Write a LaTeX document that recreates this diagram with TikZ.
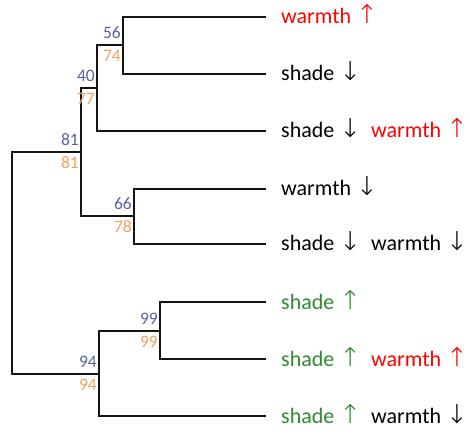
\documentclass[tikz,border=0pt]{standalone}
\usepackage{fontspec}
\setmainfont{Carlito}
\newfontfamily\arrfont{DejaVu Sans ExtraLight}
\definecolor{tred}{RGB}{255,0,0}
\definecolor{tgreen}{RGB}{46,139,46}
\definecolor{bsblue}{RGB}{90,96,160}
\definecolor{bsorange}{RGB}{240,160,96}
\newcommand{\myup}{{\arrfont\fontsize{26}{30}\selectfont\char"2191}}
\newcommand{\mydown}{{\arrfont\fontsize{26}{30}\selectfont\char"2193}}
\begin{document}
\begin{tikzpicture}[x=1pt,y=-1pt,
  branch/.style={line width=2.6pt, black!92, line cap=rect},
  leaflab/.style={anchor=base west, font=\fontsize{22}{26}\selectfont, inner sep=0pt},
  bsa/.style={anchor=east, text=bsblue, font=\fontsize{17.5}{20}\selectfont, inner sep=0pt},
  bsb/.style={anchor=east, text=bsorange, font=\fontsize{17.5}{20}\selectfont, inner sep=0pt}]
\useasboundingbox (0,0) rectangle (470,435);
% leaves
\coordinate (L1) at (265,17);
\coordinate (L2) at (265,74);
\coordinate (L3) at (265,131);
\coordinate (L4) at (265,189);
\coordinate (L5) at (265,244);
\coordinate (L6) at (265,302);
\coordinate (L7) at (265,359);
\coordinate (L8) at (265,416);
% junctions
\coordinate (A) at (123,45);
\coordinate (B) at (97,88);
\coordinate (C) at (134,216);
\coordinate (D) at (81,152);
\coordinate (E) at (160,331);
\coordinate (F) at (99,374);
\coordinate (R) at (12,262);
% branches
\draw[branch] (L1) -| (A) |- (L2);
\draw[branch] (A) -| (B) |- (L3);
\draw[branch] (L4) -| (C) |- (L5);
\draw[branch] (B) -| (D) |- (C);
\draw[branch] (L6) -| (E) |- (L7);
\draw[branch] (E) -| (F) |- (L8);
\draw[branch] (D) -| (R) |- (F);
% support values
\node[bsa] (a1) at ([shift={(-2,-12)}]A) {56};
\node[bsb] (a2) at ([shift={(-2,11)}]A) {74};
\node[bsa] (b1) at ([shift={(-2,-12)}]B) {40};
\node[bsb] (b2) at ([shift={(-2,11)}]B) {77};
\node[bsa] (c1) at ([shift={(-2,-12)}]C) {66};
\node[bsb] (c2) at ([shift={(-2,11)}]C) {78};
\node[bsa] (d1) at ([shift={(-2,-12)}]D) {81};
\node[bsb] (d2) at ([shift={(-2,11)}]D) {81};
\node[bsa] (e1) at ([shift={(-2,-12)}]E) {99};
\node[bsb] (e2) at ([shift={(-2,11)}]E) {99};
\node[bsa] (f1) at ([shift={(-2,-12)}]F) {94};
\node[bsb] (f2) at ([shift={(-2,11)}]F) {94};
% leaf labels
\node[leaflab, text=tred] (t1) at (281,24) {warmth \myup};
\node[leaflab] (t2) at (281,81) {shade \mydown};
\node[leaflab] (t3) at (281,138) {shade \mydown};
\node[leaflab, text=tred] (t3b) at (371,138) {warmth \myup};
\node[leaflab] (t4) at (281,196) {warmth \mydown};
\node[leaflab] (t5) at (281,251) {shade \mydown};
\node[leaflab] (t5b) at (371,251) {warmth \mydown};
\node[leaflab, text=tgreen] (t6) at (281,309) {shade \myup};
\node[leaflab, text=tgreen] (t7) at (281,366) {shade \myup};
\node[leaflab, text=tred] (t7b) at (371,366) {warmth \myup};
\node[leaflab, text=tgreen] (t8) at (281,423) {shade \myup};
\node[leaflab] (t8b) at (371,423) {warmth \mydown};
\end{tikzpicture}
\end{document}
